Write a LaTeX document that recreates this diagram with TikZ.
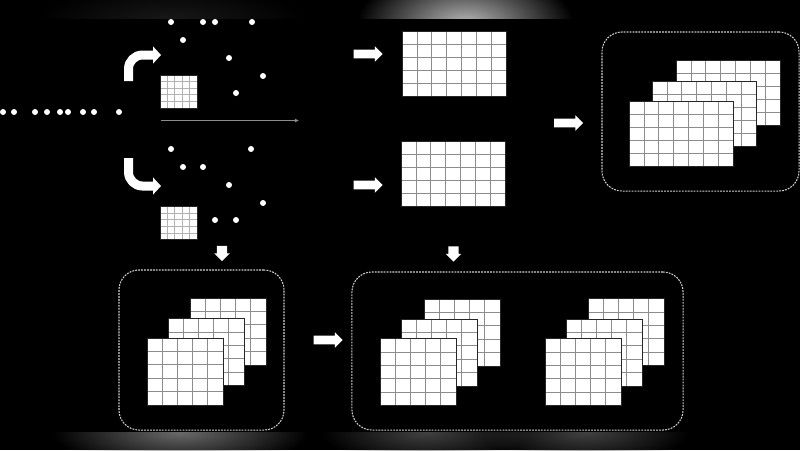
\documentclass[tikz,border=0pt]{standalone}
\usepackage{tikz}
\usetikzlibrary{arrows.meta,positioning,calc,shapes.arrows,fadings}

\tikzfading[name=glow, inner color=transparent!0, outer color=transparent!100]

\tikzset{
  gridline/.style={draw=black!45, line width=0.5pt},
  sheet/.style 2 args={draw=black!85, fill=white, inner sep=0pt, line width=0.6pt,
    path picture={
      \foreach \k in {1,...,#1}
        \draw[gridline] ($(path picture bounding box.north west)!{\k/#1}!(path picture bounding box.north east)$) -- ($(path picture bounding box.south west)!{\k/#1}!(path picture bounding box.south east)$);
      \foreach \k in {1,...,#2}
        \draw[gridline] ($(path picture bounding box.north west)!{\k/#2}!(path picture bounding box.south west)$) -- ($(path picture bounding box.north east)!{\k/#2}!(path picture bounding box.south east)$);
    }},
}

\begin{document}
\begin{tikzpicture}[x=0.025cm, y=-0.025cm,
    dot/.style={circle, fill=white, inner sep=0pt, minimum size=0.15cm},
    bigsheet/.style={sheet={7}{5}, minimum width=2.6cm, minimum height=1.625cm},
    layer/.style={sheet={5}{5}, minimum width=1.9cm, minimum height=1.675cm},
    smallsheet/.style={sheet={5}{5}, minimum width=0.925cm, minimum height=0.825cm, gridline/.append style={draw=black!30}},
    frame/.style={draw=white!82!black, dash pattern=on 1.3pt off 0.8pt, line width=0.75pt, rounded corners=0.5cm, inner sep=0pt},
    blockarrow/.style={single arrow, fill=white, draw=none, inner sep=0.1cm, minimum height=0.725cm, single arrow head extend=0.09cm},
    droparrow/.style={single arrow, fill=white, draw=none, inner sep=0.12cm, minimum height=0.3cm, single arrow head extend=0.07cm, shape border rotate=270},
    bent/.style={draw=white, line width=0.225cm, rounded corners=0.35cm, -{Triangle[length=0.2cm, width=0.42cm]}},
    thinarrow/.style={draw=white!55!black, line width=0.6pt, -{Latex[length=3pt, width=3pt]}}]

  \fill[black] (0,0) rectangle (800,450);
  \begin{scope}
    \clip (0,0) rectangle (800,18);
    \fill[white!10!black, path fading=glow] (170,20) ellipse [x radius=3.4cm, y radius=0.9cm];
    \fill[white!72!black, path fading=glow] (465,24) ellipse [x radius=2.7cm, y radius=1.4cm];
  \end{scope}
  \begin{scope}
    \clip (0,432) rectangle (800,450);
    \fill[white!42!black, path fading=glow] (180,432) ellipse [x radius=3.2cm, y radius=0.9cm];
    \fill[white!26!black, path fading=glow] (425,432) ellipse [x radius=2.6cm, y radius=0.8cm];
    \fill[white!26!black, path fading=glow] (585,432) ellipse [x radius=2.6cm, y radius=0.8cm];
  \end{scope}

  \foreach \x [count=\i] in {3,14,35,47,60,68,83,94,119}
    \node[dot] (s\i) at (\x,112) {};
  \foreach \x/\y [count=\i] in {171/22,203/22,215/22,252/22,183/40,229/58,263/76,236/93}
    \node[dot] (u\i) at (\x,\y) {};
  \foreach \x/\y [count=\i] in {171/149,251/149,183/167,203/167,229/185,263/203,215/220,236/220}
    \node[dot] (d\i) at (\x,\y) {};

  \coordinate (up0) at (128.5,81);
  \coordinate (up1) at (161,55);
  \coordinate (dn0) at (128.5,158);
  \coordinate (dn1) at (161,186);
  \draw[bent] (up0) |- (up1);
  \draw[bent] (dn0) |- (dn1);

  \node[smallsheet] (su) at (178.5,91.5) {};
  \node[smallsheet] (sd) at (178.5,223) {};

  \coordinate (g0) at (161,120.5);
  \coordinate (g1) at (299,120.5);
  \draw[thinarrow] (g0) -- (g1);

  \node[blockarrow] (a1) at (366,54) {};
  \node[blockarrow] (a2) at (366,185) {};
  \node[bigsheet] (t1) at (454,63.5) {};
  \node[bigsheet] (t2) at (453,173.5) {};

  \node[blockarrow] (a3) at (566.5,123) {};
  \node[frame, minimum width=4.925cm, minimum height=3.975cm] (fr) at (700.5,111.5) {};
  \node[bigsheet] (r3) at (728,93) {};
  \node[bigsheet] (r2) at ($(r3)+(-24,20.5)$) {};
  \node[bigsheet] (r1) at ($(r3)+(-47,41)$) {};

  \node[droparrow] (v1) at (222,251) {};
  \node[droparrow] (v2) at (453.5,251.5) {};

  \node[frame, minimum width=4.125cm, minimum height=4cm] (fl) at (201.5,350) {};
  \node[layer] (l3) at (228,331.5) {};
  \node[layer] (l2) at ($(l3)+(-22,20.5)$) {};
  \node[layer] (l1) at ($(l3)+(-43,40)$) {};

  \node[blockarrow] (a4) at (326,340) {};

  \node[frame, minimum width=8.275cm, minimum height=3.95cm] (fb) at (517.5,351) {};
  \node[layer] (m3) at (462,332.5) {};
  \node[layer] (m2) at ($(m3)+(-23,20)$) {};
  \node[layer] (m1) at ($(m3)+(-44,39.5)$) {};
  \node[layer] (n3) at (626,332) {};
  \node[layer] (n2) at ($(n3)+(-22,20.5)$) {};
  \node[layer] (n1) at ($(n3)+(-43,40)$) {};
\end{tikzpicture}
\end{document}
